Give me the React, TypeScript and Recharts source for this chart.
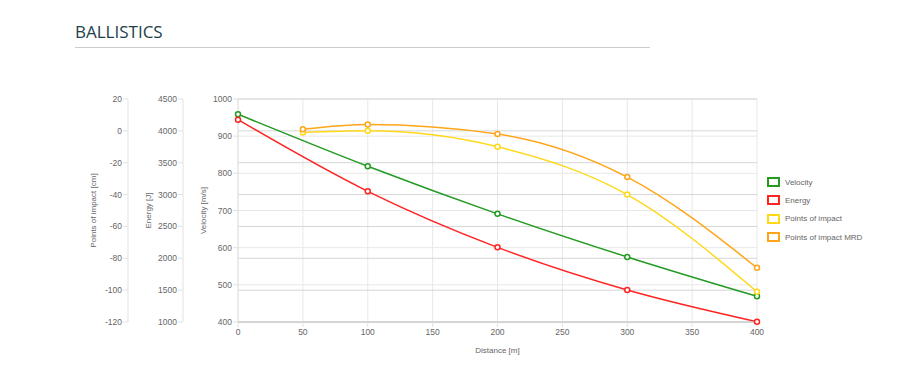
import {LineChart, Line, XAxis, YAxis, CartesianGrid, Legend} from "recharts";

const distances = [0, 50, 100, 200, 300, 400];
const velocity = [959, null, 819, 691, 575, 469];
const energy = [4175, null, 3051, 2172, 1502, 1004];
const pointsOfImpact = [null, -1, 0, -10, -40, -101];
const pointsOfImpactMrd = [null, 1, 4, -2, -29, -86];

const distanceTicks = [0, 50, 100, 150, 200, 250, 300, 350, 400];
const velocityTicks = [400, 500, 600, 700, 800, 900, 1000];
const energyTicks = [1000, 1500, 2000, 2500, 3000, 3500, 4000, 4500];
const pointsTicks = [-120, -100, -80, -60, -40, -20, 0, 20];

// axis ids are ordered so that "a_vel" sits next to the plot
const series = [
  {key: "velocity", name: "Velocity", color: "#239b23", axis: "a_vel"},
  {key: "energy", name: "Energy", color: "#ff2424", axis: "b_energy"},
  {key: "poi", name: "Points of impact", color: "#ffd81a", axis: "c_pts"},
  {key: "poiMrd", name: "Points of impact MRD", color: "#ffa51a", axis: "c_pts"},
];

const data = distances.map((d, i) => ({
  distance: d,
  velocity: velocity[i],
  energy: energy[i],
  poi: pointsOfImpact[i],
  poiMrd: pointsOfImpactMrd[i],
}));

const font = "Arial, 'Liberation Sans', sans-serif";
const tickStyle = {fontSize: 8.5, fill: "#666", fontFamily: font};
const lightLine = {stroke: "#e2e2e2"};

function yLabel(text: string) {
  return (props: any) => {
    const vb = props.viewBox;
    const x = vb.x + 20;
    const y = vb.y + vb.height / 2;
    return (
      <text x={x} y={y} transform={`rotate(-90, ${x}, ${y})`} textAnchor="middle" dominantBaseline="central"
        fontSize={8} fill="#666" fontFamily={font}>
        {text}
      </text>
    );
  };
}

function xLabel(props: any) {
  const vb = props.viewBox;
  return (
    <text x={vb.x + vb.width / 2} y={vb.y + 28} textAnchor="middle" dominantBaseline="central"
      fontSize={8} fill="#666" fontFamily={font}>
      Distance [m]
    </text>
  );
}

function LegendContent() {
  return (
    <div style={{paddingLeft: 10, fontFamily: font}}>
      {series.map((s) => (
        <div key={s.key} style={{display: "flex", alignItems: "center", height: 18.3}}>
          <span style={{display: "inline-block", width: 9, height: 6, border: `2px solid ${s.color}`, marginRight: 5}} />
          <span style={{fontSize: 8, color: "#666"}}>{s.name}</span>
        </div>
      ))}
    </div>
  );
}

export default function App() {
  return (
    <div style={{position: "relative", margin: -8, width: 900, height: 372, background: "#fff"}}>
      <div style={{position: "absolute", left: 75, top: 20, lineHeight: "24px", fontSize: 17,
        fontFamily: "'Open Sans', sans-serif", color: "#23404a"}}>
        BALLISTICS
      </div>
      <div style={{position: "absolute", left: 75, top: 47, width: 575, height: 1, background: "#cccccc"}} />
      <div style={{position: "absolute", left: 0, top: 0}}>
        <LineChart width={900} height={372} data={data} margin={{top: 99, right: 18, bottom: 10, left: 73}}>
          <CartesianGrid xAxisId="x" yAxisId="a_vel" stroke="#e8e8e8" />
          <CartesianGrid xAxisId="x" yAxisId="c_pts" stroke="#d6d6d6" vertical={false} />
          <XAxis xAxisId="x" dataKey="distance" type="number" domain={[0, 400]} ticks={distanceTicks}
            tick={tickStyle} tickSize={5} tickMargin={2} axisLine={{stroke: "#c4c4c4"}} tickLine={lightLine}
            height={40} label={xLabel} />
          <YAxis yAxisId="a_vel" domain={[400, 1000]} ticks={velocityTicks} width={55} tick={tickStyle}
            tickSize={5} tickMargin={1} axisLine={lightLine} tickLine={lightLine} label={yLabel("Velocity [m/s]")} />
          <YAxis yAxisId="b_energy" domain={[1000, 4500]} ticks={energyTicks} width={55} tick={tickStyle}
            tickSize={5} tickMargin={1} axisLine={lightLine} tickLine={lightLine} label={yLabel("Energy [J]")} />
          <YAxis yAxisId="c_pts" domain={[-120, 20]} ticks={pointsTicks} width={55} tick={tickStyle}
            tickSize={5} tickMargin={1} axisLine={lightLine} tickLine={lightLine} label={yLabel("Points of impact [cm]")} />
          <Legend layout="vertical" align="right" verticalAlign="middle" content={<LegendContent />}
            wrapperStyle={{width: 125, top: 173}} />
          {series.map((s) => (
            <Line key={s.key} xAxisId="x" yAxisId={s.axis} type="monotone" dataKey={s.key} name={s.name}
              stroke={s.color} strokeWidth={1.5} connectNulls isAnimationActive={false}
              dot={{r: 2.5, fill: "#fff", stroke: s.color, strokeWidth: 1.5}} />
          ))}
        </LineChart>
      </div>
    </div>
  );
}
